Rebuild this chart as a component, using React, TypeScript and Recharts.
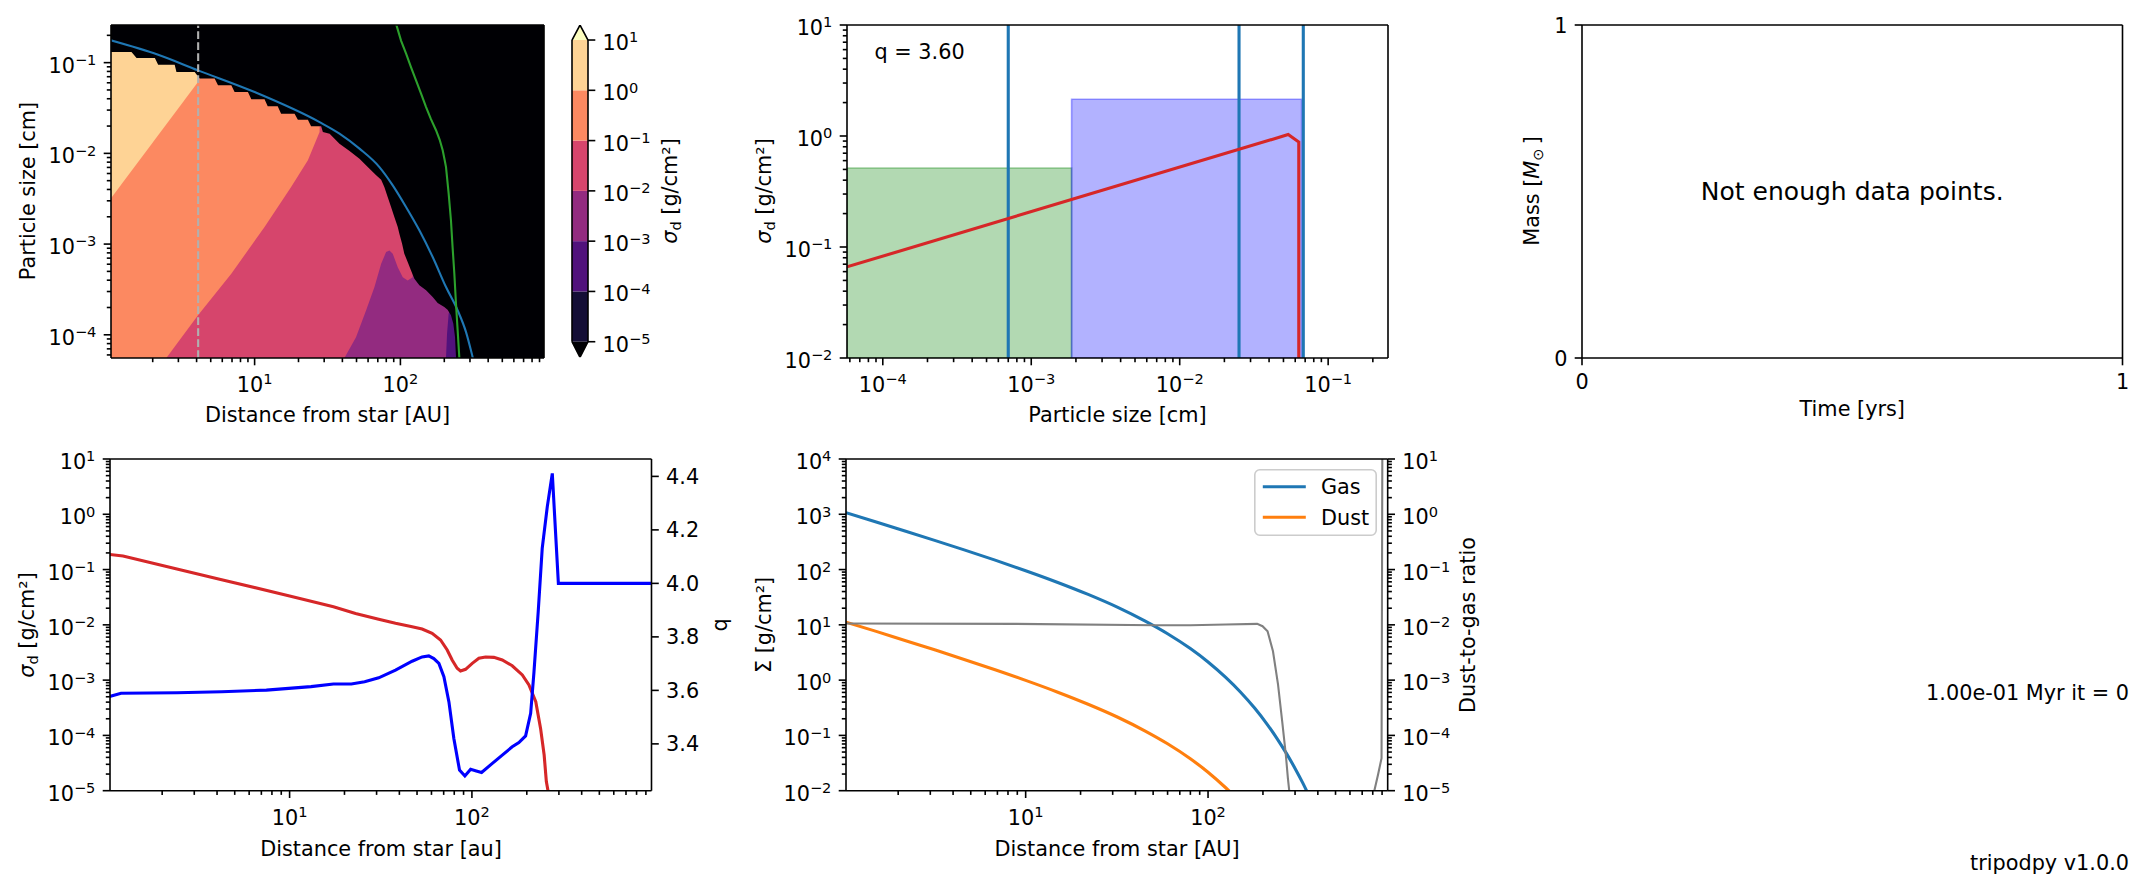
import React from "react";
import {
  ComposedChart,
  Area,
  Line,
  XAxis,
  YAxis,
  ReferenceLine,
  ReferenceArea,
  CartesianGrid,
  Legend,
} from "recharts";

const FONT = "'DejaVu Sans', sans-serif";
const FS = 20.8;
const SUP = 14.6;
const LW = 1.6;
const TICK_MAJOR = 7.3;
const TICK_MINOR = 4.2;
const TICK_PAD = 7.3;
const AXIS_LINE = { stroke: "#000", strokeWidth: LW };

// ---------- axis ranges ----------
const R_RANGE: [number, number] = [1.035, 966];
const A_MIN = 5.55e-5;
const A_MAX = 0.26;
const A_RANGE: [number, number] = [A_MIN, A_MAX];
const SIZE_RANGE: [number, number] = [5.74e-5, 0.253];
const SD_RANGE: [number, number] = [1e-2, 1e1];
const SIG_RANGE: [number, number] = [1e-5, 1e1];
const Q_RANGE: [number, number] = [3.225, 4.465];
const SURF_RANGE: [number, number] = [1e-2, 1e4];
const RATIO_RANGE: [number, number] = [1e-5, 1e1];
const CB_RANGE: [number, number] = [4.9e-6, 19.9];
const UNIT_RANGE: [number, number] = [0, 1];

// ---------- major tick values ----------
const R_MAJOR = [10, 100];
const A_MAJOR = [1e-4, 1e-3, 1e-2, 1e-1];
const SIZE_MAJOR = [1e-4, 1e-3, 1e-2, 1e-1];
const SD_MAJOR = [1e-2, 1e-1, 1e0, 1e1];
const SIG_MAJOR = [1e-5, 1e-4, 1e-3, 1e-2, 1e-1, 1e0, 1e1];
const Q_MAJOR = [3.4, 3.6, 3.8, 4.0, 4.2, 4.4];
const SURF_MAJOR = [1e-2, 1e-1, 1e0, 1e1, 1e2, 1e3, 1e4];
const RATIO_MAJOR = [1e-5, 1e-4, 1e-3, 1e-2, 1e-1, 1e0, 1e1];
const UNIT_MAJOR = [0, 1];

// ---------- colour levels of the size distribution map ----------
const SIGMA_LEVELS = [1e-5, 1e-4, 1e-3, 1e-2, 1e-1, 1e0, 1e1];
const LEVEL_COLORS = ["#140e36", "#51127c", "#932b80", "#d6456c", "#fc8961", "#fed395"];
const UNDER_COLOR = "#000004";
const OVER_COLOR = "#fcfdbf";

// lower edges of the regions sigma > 1e-4 ... sigma > 1e0 (r [AU], a [cm])
const EDGE_1EM4 = [
  { r: 1.03, a: A_MIN },
  { r: 243, a: A_MIN },
];
const EDGE_1EM3 = [
  { r: 1.03, a: A_MIN },
  { r: 205.5, a: A_MIN },
  { r: 208.9, a: 1.03e-4 },
  { r: 214.3, a: 1.71e-4 },
  { r: 219, a: 1.86e-4 },
  { r: 220, a: A_MAX },
];
const EDGE_1EM2 = [
  { r: 1.03, a: A_MIN },
  { r: 41.3, a: A_MIN },
  { r: 49.6, a: 9.4e-5 },
  { r: 58.2, a: 1.86e-4 },
  { r: 66.4, a: 3.36e-4 },
  { r: 73.8, a: 6.08e-4 },
  { r: 79.8, a: 8.17e-4 },
  { r: 84.1, a: 8.5e-4 },
  { r: 88.6, a: 7.83e-4 },
  { r: 95.9, a: 5.57e-4 },
  { r: 103.8, a: 4.32e-4 },
  { r: 112.2, a: 3.98e-4 },
  { r: 121.4, a: 4.32e-4 },
  { r: 123, a: A_MAX },
];
const EDGE_1EM1 = [
  { r: 1.03, a: A_MIN },
  { r: 2.48, a: A_MIN },
  { r: 4.09, a: 1.64e-4 },
  { r: 6.92, a: 4.72e-4 },
  { r: 11.7, a: 1.54e-3 },
  { r: 17.8, a: 4.25e-3 },
  { r: 23.2, a: 8.38e-3 },
  { r: 27.9, a: 0.0172 },
  { r: 28.5, a: A_MAX },
];
const EDGE_1E0 = [
  { r: 1.03, a: 3.16e-3 },
  { r: 4.09, a: 0.061 },
  { r: 4.2, a: A_MAX },
];
const LEVEL_EDGES = [EDGE_1EM4, EDGE_1EM3, EDGE_1EM2, EDGE_1EM1, EDGE_1E0];

// largest grain present (black above it, and everywhere beyond the dust edge)
const A_TOP = [
  { r: 1.03, a: 0.131 }, { r: 1.43, a: 0.131 }, { r: 1.55, a: 0.1124 }, { r: 2.07, a: 0.1124 },
  { r: 2.18, a: 0.095 }, { r: 2.83, a: 0.095 }, { r: 2.91, a: 0.0787 }, { r: 3.88, a: 0.0787 },
  { r: 4.2, a: 0.0667 }, { r: 5.32, a: 0.0667 }, { r: 5.61, a: 0.0562 }, { r: 6.92, a: 0.0562 },
  { r: 7.29, a: 0.0474 }, { r: 9.0, a: 0.0474 }, { r: 9.49, a: 0.0394 }, { r: 11.7, a: 0.0394 },
  { r: 12.3, a: 0.033 }, { r: 14.4, a: 0.033 }, { r: 15.2, a: 0.0274 }, { r: 18.8, a: 0.0274 },
  { r: 19.8, a: 0.0235 }, { r: 23.2, a: 0.0235 }, { r: 24.4, a: 0.0199 }, { r: 28.6, a: 0.0199 },
  { r: 29.4, a: 0.0172 }, { r: 32.7, a: 0.0165 }, { r: 38.2, a: 0.0128 }, { r: 44.8, a: 0.0106 },
  { r: 52.4, a: 0.00875 }, { r: 61.4, a: 0.00678 }, { r: 68.2, a: 0.00572 }, { r: 73.8, a: 0.00513 },
  { r: 77.6, a: 0.00425 }, { r: 81.8, a: 0.0033 }, { r: 86.3, a: 0.00256 }, { r: 90.9, a: 0.00199 },
  { r: 95.9, a: 0.00154 }, { r: 98.4, a: 0.0013 }, { r: 102.7, a: 0.00101 }, { r: 106.4, a: 7.83e-4 },
  { r: 112.2, a: 6.34e-4 }, { r: 118.3, a: 5.13e-4 }, { r: 124.7, a: 4.16e-4 }, { r: 134.9, a: 3.51e-4 },
  { r: 150, a: 3.09e-4 }, { r: 166.5, a: 2.61e-4 }, { r: 180.2, a: 2.24e-4 }, { r: 200, a: 2.02e-4 },
  { r: 210.7, a: 1.89e-4 }, { r: 222.2, a: 1.64e-4 }, { r: 230.7, a: 1.32e-4 }, { r: 237, a: 9.4e-5 },
  { r: 240.6, a: 5.7e-5 }, { r: 243, a: 4e-5 }, { r: 980, a: 4e-5 },
];

const A_FRAG = [
  { r: 1.03, a: 0.176 }, { r: 2.18, a: 0.122 }, { r: 4.09, a: 0.0822 }, { r: 10, a: 0.0474 },
  { r: 27.9, a: 0.0221 }, { r: 38.2, a: 0.0165 }, { r: 52.4, a: 0.01127 }, { r: 71.8, a: 0.00706 },
  { r: 88.6, a: 0.00444 }, { r: 109.4, a: 0.00256 }, { r: 134.9, a: 0.00142 }, { r: 166.5, a: 7.2e-4 },
  { r: 205.5, a: 3.36e-4 }, { r: 247, a: 1.86e-4 }, { r: 282, a: 1.07e-4 }, { r: 313, a: 5.66e-5 },
  { r: 330, a: 4e-5 },
];
const A_DRIFT = [
  { r: 93, a: 0.27 }, { r: 94.5, a: 0.251 }, { r: 101, a: 0.175 }, { r: 109.4, a: 0.1256 },
  { r: 118, a: 0.09 }, { r: 128, a: 0.0638 }, { r: 139, a: 0.045 }, { r: 150, a: 0.0324 },
  { r: 162, a: 0.0238 }, { r: 175.5, a: 0.018 }, { r: 186, a: 0.0141 }, { r: 195, a: 0.0108 },
  { r: 201, a: 0.0085 }, { r: 205.5, a: 0.00706 }, { r: 214.3, a: 0.0036 }, { r: 222.2, a: 0.00183 },
  { r: 228, a: 9.27e-4 }, { r: 234.4, a: 4.72e-4 }, { r: 240.6, a: 2.2e-4 }, { r: 247, a: 1.12e-4 },
  { r: 253.5, a: 5.66e-5 }, { r: 255, a: 4e-5 },
];
const R_SNAPSHOT = 4.1;

// ---------- size distribution at the snapshot radius ----------
const BINS = [
  { lo: 5.74e-5, hi: 1.87e-3, sigma: 0.515 },
  { lo: 1.87e-3, hi: 0.0662, sigma: 2.14 },
];
const BIN_COLORS = ["#008000", "#0000ff"];
const A_MARKERS = [7.0e-4, 0.0251, 0.068];
const SIZE_DIST = [
  { a: 5.74e-5, s: 0.0662 },
  { a: 0.0538, s: 1.03 },
  { a: 0.0634, s: 0.883 },
  { a: 0.0634, s: 1e-3 },
];
const Q_VALUE = "3.60";

// ---------- radial profiles ----------
const SIGMA_D = [
  { r: 1.02, s: 0.188 }, { r: 1.22, s: 0.176 }, { r: 2.41, s: 0.1026 }, { r: 4.24, s: 0.0656 },
  { r: 10, s: 0.0332 }, { r: 17.4, s: 0.0213 }, { r: 23, s: 0.0161 }, { r: 30.8, s: 0.0126 },
  { r: 38.1, s: 0.01064 }, { r: 47, s: 0.00927 }, { r: 53.3, s: 0.00841 }, { r: 60.5, s: 0.00703 },
  { r: 67.3, s: 0.00532 }, { r: 73.2, s: 0.00351 }, { r: 77.9, s: 0.00231 }, { r: 83, s: 0.00164 },
  { r: 86.6, s: 0.00146 }, { r: 92.3, s: 0.00157 }, { r: 100.4, s: 0.00201 }, { r: 109.2, s: 0.00248 },
  { r: 118.8, s: 0.00262 }, { r: 132, s: 0.00258 }, { r: 146.7, s: 0.00231 }, { r: 166.4, s: 0.00182 },
  { r: 189, s: 0.00124 }, { r: 205.5, s: 8.17e-4 }, { r: 224, s: 4.07e-4 }, { r: 238, s: 1.34e-4 },
  { r: 249, s: 4.42e-5 }, { r: 256, s: 1.46e-5 }, { r: 262, s: 9.6e-6 }, { r: 265, s: 5e-6 },
];
const Q_PROFILE = [
  { r: 1.02, q: 3.576 }, { r: 1.19, q: 3.589 }, { r: 2.41, q: 3.591 }, { r: 4.24, q: 3.595 },
  { r: 7.46, q: 3.601 }, { r: 13.1, q: 3.614 }, { r: 17.4, q: 3.624 }, { r: 21.8, q: 3.624 },
  { r: 25.8, q: 3.632 }, { r: 30.8, q: 3.647 }, { r: 38.1, q: 3.676 }, { r: 47, q: 3.709 },
  { r: 53.3, q: 3.725 }, { r: 58, q: 3.729 }, { r: 61.8, q: 3.719 }, { r: 65.9, q: 3.701 },
  { r: 70.2, q: 3.651 }, { r: 74.8, q: 3.557 }, { r: 79.6, q: 3.42 }, { r: 85.5, q: 3.302 },
  { r: 91.5, q: 3.28 }, { r: 98.4, q: 3.305 }, { r: 105.7, q: 3.299 }, { r: 113, q: 3.293 },
  { r: 129.4, q: 3.327 }, { r: 146.7, q: 3.358 }, { r: 166.4, q: 3.389 }, { r: 181, q: 3.405 },
  { r: 197, q: 3.43 }, { r: 210, q: 3.514 }, { r: 219, q: 3.669 }, { r: 231, q: 3.894 },
  { r: 243, q: 4.131 }, { r: 259, q: 4.286 }, { r: 276, q: 4.411 }, { r: 298, q: 4.0 },
  { r: 966, q: 4.0 },
];
const SIGMA_GAS = [
  { r: 1.035, s: 1070 }, { r: 1.5, s: 733 }, { r: 2.2, s: 494 }, { r: 3.2, s: 334 },
  { r: 4.6, s: 227 }, { r: 6.8, s: 148 }, { r: 10, s: 95.4 }, { r: 15, s: 58.5 },
  { r: 22, s: 35.5 }, { r: 32, s: 20.7 }, { r: 45, s: 11.8 }, { r: 60, s: 6.91 },
  { r: 80, s: 3.72 }, { r: 100, s: 2.13 }, { r: 125, s: 1.12 }, { r: 150, s: 0.617 },
  { r: 180, s: 0.312 }, { r: 210, s: 0.162 }, { r: 240, s: 0.086 }, { r: 270, s: 0.0463 },
  { r: 300, s: 0.0253 }, { r: 330, s: 0.014 }, { r: 360, s: 0.00776 },
];
const SIGMA_DUST = [
  { r: 1.035, s: 11.2 }, { r: 1.5, s: 7.7 }, { r: 2.2, s: 5.15 }, { r: 3.2, s: 3.5 },
  { r: 4.6, s: 2.37 }, { r: 6.8, s: 1.54 }, { r: 10, s: 0.99 }, { r: 15, s: 0.605 },
  { r: 22, s: 0.366 }, { r: 32, s: 0.213 }, { r: 45, s: 0.121 }, { r: 60, s: 0.0705 },
  { r: 80, s: 0.0378 }, { r: 100, s: 0.0216 }, { r: 125, s: 0.0113 }, { r: 140, s: 0.0079 },
];
const DUST_TO_GAS = [
  { r: 1.035, d: 0.01057 }, { r: 8.75, d: 0.01042 }, { r: 51.4, d: 0.00986 }, { r: 80.1, d: 0.00986 },
  { r: 125, d: 0.01014 }, { r: 186, d: 0.01042 }, { r: 199, d: 0.00946 }, { r: 212, d: 0.00768 },
  { r: 227, d: 0.00333 }, { r: 242, d: 8.28e-4 }, { r: 255, d: 1.79e-4 }, { r: 267, d: 4.46e-5 },
  { r: 274, d: 1.69e-5 }, { r: 279, d: 9.7e-6 }, { r: 285, d: 1e-7 }, { r: 810, d: 1e-7 },
  { r: 818, d: 1.03e-5 }, { r: 855, d: 1.94e-5 }, { r: 894, d: 3.88e-5 }, { r: 906, d: 1e3 },
];
const LEGEND_ORDER = ["Gas", "Dust"];

// ---------- texts ----------
const TIME_TEXT = "1.00e-01 Myr it = 0";
const VERSION_TEXT = "tripodpy v1.0.0";
const EMPTY_TEXT = "Not enough data points.";

// ---------- layout (plot-area boxes in page pixels) ----------
type Box = { l: number; r: number; t: number; b: number };
const BOX_MAP: Box = { l: 111, r: 544, t: 24.5, b: 357.5 };
const BOX_CBAR: Box = { l: 571.7, r: 587.7, t: 25, b: 357.3 };
const BOX_DIST: Box = { l: 847, r: 1388, t: 24.5, b: 357.5 };
const BOX_MASS: Box = { l: 1582, r: 2122.5, t: 24.5, b: 357.5 };
const BOX_Q: Box = { l: 110.3, r: 651.8, t: 459, b: 790.7 };
const BOX_SURF: Box = { l: 846.3, r: 1388, t: 459, b: 790.7 };
const PAD = { l: 78, r: 78, t: 14, b: 50 };
// every axis takes 1px (recharts skips drawing zero-sized axes)
const AX = 1;

function logTicks(lo: number, hi: number) {
  const out: number[] = [];
  for (let e = Math.floor(Math.log10(lo)); e <= Math.ceil(Math.log10(hi)); e++) {
    for (let k = 1; k < 10; k++) {
      const v = Number((k * Math.pow(10, e)).toPrecision(6));
      if (v >= lo && v <= hi) out.push(v);
    }
  }
  return out;
}

function isMajor(v: number, majors: number[]) {
  return majors.some((m) => Math.abs(v - m) <= Math.abs(m) * 1e-6 + 1e-12);
}

function powLabel(v: number) {
  const e = Math.round(Math.log10(v));
  return (
    <>
      <tspan>10</tspan>
      <tspan dy={-7.6} fontSize={SUP}>
        {e < 0 ? `\u2212${-e}` : `${e}`}
      </tspan>
    </>
  );
}

type Side = "bottom" | "left" | "right";
type Kind = "pow" | "plain" | "fixed1";

function tickRenderer(side: Side, majors: number[], kind: Kind) {
  return (props: any) => {
    const x = Number(props.x);
    const y = Number(props.y);
    const v = Number(props.payload?.value);
    const major = isMajor(v, majors);
    const len = major ? TICK_MAJOR : TICK_MINOR;
    let content: React.ReactNode = null;
    if (major) content = kind === "pow" ? powLabel(v) : kind === "fixed1" ? v.toFixed(1) : String(v);
    if (side === "bottom") {
      return (
        <g>
          <line x1={x} y1={y} x2={x} y2={y + len} stroke="#000" strokeWidth={LW} />
          {content !== null && (
            <text x={x} y={y + (kind === "pow" ? 34 : 30.5)} textAnchor="middle" fontFamily={FONT} fontSize={FS} fill="#000">
              {content}
            </text>
          )}
        </g>
      );
    }
    const dir = side === "left" ? -1 : 1;
    return (
      <g>
        <line x1={x} y1={y} x2={x + dir * len} y2={y} stroke="#000" strokeWidth={LW} />
        {content !== null && (
          <text
            x={x + dir * (TICK_MAJOR + TICK_PAD)}
            y={y + (kind === "pow" ? 10 : 7.6)}
            textAnchor={side === "left" ? "end" : "start"}
            fontFamily={FONT}
            fontSize={FS}
            fill="#000"
          >
            {content}
          </text>
        )}
      </g>
    );
  };
}

const TICK_BASE = { interval: 0 as const, tickSize: 0, tickMargin: 0, tickLine: false, axisLine: AXIS_LINE };

const topFrame = () => (
  <XAxis key="ft" xAxisId="top" orientation="top" type="number" domain={UNIT_RANGE} allowDataOverflow height={AX} tick={false} tickLine={false} axisLine={AXIS_LINE} />
);
const rightFrame = () => (
  <YAxis key="fr" yAxisId="frame" orientation="right" type="number" domain={UNIT_RANGE} allowDataOverflow width={AX} tick={false} tickLine={false} axisLine={AXIS_LINE} />
);

function Panel({
  box,
  children,
  sides = { l: AX, r: AX, t: AX, b: AX },
}: {
  box: Box;
  children: React.ReactNode;
  sides?: { l: number; r: number; t: number; b: number };
}) {
  const w = box.r - box.l + PAD.l + PAD.r;
  const h = box.b - box.t + PAD.t + PAD.b;
  return (
    <div style={{ position: "absolute", left: box.l - PAD.l, top: box.t - PAD.t }}>
      <ComposedChart
        width={w}
        height={h}
        margin={{ top: PAD.t - sides.t, right: PAD.r - sides.r, bottom: PAD.b - sides.b, left: PAD.l - sides.l }}
      >
        {children}
      </ComposedChart>
    </div>
  );
}

function Title({
  x,
  y,
  rotate = false,
  anchor = "middle",
  size = FS,
  children,
}: {
  x: number;
  y: number;
  rotate?: boolean;
  anchor?: "start" | "middle" | "end";
  size?: number;
  children: React.ReactNode;
}) {
  if (rotate) {
    return (
      <text transform={`translate(${x} ${y}) rotate(-90)`} textAnchor="middle" dominantBaseline="central" fontFamily={FONT} fontSize={size} fill="#000">
        {children}
      </text>
    );
  }
  return (
    <text x={x} y={y} textAnchor={anchor} fontFamily={FONT} fontSize={size} fill="#000">
      {children}
    </text>
  );
}

const SigmaD = () => (
  <>
    <tspan fontStyle="italic">σ</tspan>
    <tspan fontSize={SUP} dy={4.5}>d</tspan>
    <tspan dy={-4.5}> [g/cm²]</tspan>
  </>
);

function GasDustLegend(props: any) {
  const items = (props.payload || [])
    .filter((p: any) => LEGEND_ORDER.includes(p.value))
    .sort((a: any, b: any) => LEGEND_ORDER.indexOf(a.value) - LEGEND_ORDER.indexOf(b.value));
  return (
    <svg width={123} height={67} style={{ display: "block" }}>
      <rect x={0.8} y={0.8} width={121.4} height={65.4} rx={5} fill="#fff" fillOpacity={0.8} stroke="#cccccc" strokeWidth={1.6} />
      {items.map((it: any, i: number) => (
        <g key={it.value}>
          <line x1={8.8} x2={51.8} y1={17.7 + i * 30.6} y2={17.7 + i * 30.6} stroke={it.color} strokeWidth={3.1} />
          <text x={67} y={17.7 + i * 30.6 + 7.6} fontFamily={FONT} fontSize={FS} fill="#000">
            {it.value}
          </text>
        </g>
      ))}
    </svg>
  );
}

export default function App() {
  const rTicks = logTicks(R_RANGE[0], R_RANGE[1]);
  return (
    <div style={{ position: "absolute", left: 0, top: 0, width: 2145, height: 888, background: "#fff", overflow: "hidden" }}>
      {/* size distribution map */}
      <Panel box={BOX_MAP}>
        <CartesianGrid horizontal={false} vertical={false} fill={UNDER_COLOR} fillOpacity={1} />
        {LEVEL_EDGES.map((edge, i) => (
          <Area
            key={`lvl${i}`}
            data={edge}
            dataKey="a"
            type="linear"
            baseValue="dataMax"
            stroke="none"
            fill={LEVEL_COLORS[i + 1]}
            fillOpacity={1}
            dot={false}
            activeDot={false}
            isAnimationActive={false}
          />
        ))}
        <Area data={A_TOP} dataKey="a" type="linear" baseValue="dataMax" stroke="none" fill={UNDER_COLOR} fillOpacity={1} dot={false} activeDot={false} isAnimationActive={false} />
        <Line data={A_FRAG} dataKey="a" type="monotone" stroke="#1f77b4" strokeWidth={2.1} dot={false} activeDot={false} isAnimationActive={false} />
        <Line data={A_DRIFT} dataKey="a" type="linear" stroke="#2ca02c" strokeWidth={2.1} dot={false} activeDot={false} isAnimationActive={false} />
        <ReferenceLine x={R_SNAPSHOT} stroke="#b0b0b0" strokeWidth={2.1} strokeDasharray="7.7 3.3" />
        <XAxis dataKey="r" type="number" scale="log" domain={R_RANGE} allowDataOverflow ticks={rTicks} height={AX} {...TICK_BASE} tick={tickRenderer("bottom", R_MAJOR, "pow")} />
        <YAxis type="number" scale="log" domain={A_RANGE} allowDataOverflow ticks={logTicks(A_RANGE[0], A_RANGE[1])} width={AX} {...TICK_BASE} tick={tickRenderer("left", A_MAJOR, "pow")} />
        {topFrame()}
        {rightFrame()}
      </Panel>

      {/* colour bar */}
      <Panel box={BOX_CBAR} sides={{ l: 0, r: AX, t: 0, b: 0 }}>
        {LEVEL_COLORS.map((c, i) => (
          <ReferenceArea key={`cb${i}`} x1={0} x2={1} y1={SIGMA_LEVELS[i]} y2={SIGMA_LEVELS[i + 1]} fill={c} fillOpacity={1} stroke="none" ifOverflow="visible" />
        ))}
        <Area
          data={[{ x: 0, y: SIGMA_LEVELS[6] }, { x: 0.5, y: CB_RANGE[1] }, { x: 1, y: SIGMA_LEVELS[6] }]}
          dataKey="y"
          baseValue={SIGMA_LEVELS[6]}
          type="linear"
          stroke="#000"
          strokeWidth={LW}
          fill={OVER_COLOR}
          fillOpacity={1}
          dot={false}
          activeDot={false}
          isAnimationActive={false}
        />
        <Area
          data={[{ x: 0, y: SIGMA_LEVELS[0] }, { x: 0.5, y: CB_RANGE[0] }, { x: 1, y: SIGMA_LEVELS[0] }]}
          dataKey="y"
          baseValue={SIGMA_LEVELS[0]}
          type="linear"
          stroke="#000"
          strokeWidth={LW}
          fill={UNDER_COLOR}
          fillOpacity={1}
          dot={false}
          activeDot={false}
          isAnimationActive={false}
        />
        <ReferenceLine segment={[{ x: 0, y: SIGMA_LEVELS[0] }, { x: 0, y: SIGMA_LEVELS[6] }]} stroke="#000" strokeWidth={LW} ifOverflow="visible" />
        <ReferenceLine segment={[{ x: 1, y: SIGMA_LEVELS[0] }, { x: 1, y: SIGMA_LEVELS[6] }]} stroke="#000" strokeWidth={LW} ifOverflow="visible" />
        <XAxis dataKey="x" type="number" domain={UNIT_RANGE} hide />
        <YAxis orientation="right" type="number" scale="log" domain={CB_RANGE} allowDataOverflow ticks={SIGMA_LEVELS} width={AX} {...TICK_BASE} axisLine={false} tick={tickRenderer("right", SIGMA_LEVELS, "pow")} />
      </Panel>

      {/* size distribution at snapshot */}
      <Panel box={BOX_DIST}>
        {BINS.map((b, i) => (
          <ReferenceArea
            key={`bin${i}`}
            x1={b.lo}
            x2={b.hi}
            y1={SD_RANGE[0]}
            y2={b.sigma}
            fill={BIN_COLORS[i]}
            fillOpacity={0.3}
            stroke={BIN_COLORS[i]}
            strokeOpacity={0.35}
            strokeWidth={1.6}
            ifOverflow="hidden"
          />
        ))}
        {A_MARKERS.map((a, i) => (
          <ReferenceLine key={`am${i}`} x={a} stroke="#1f77b4" strokeWidth={3.1} />
        ))}
        <Line data={SIZE_DIST} dataKey="s" type="linear" stroke="#d62728" strokeWidth={3.1} dot={false} activeDot={false} isAnimationActive={false} />
        <XAxis dataKey="a" type="number" scale="log" domain={SIZE_RANGE} allowDataOverflow ticks={logTicks(SIZE_RANGE[0], SIZE_RANGE[1])} height={AX} {...TICK_BASE} tick={tickRenderer("bottom", SIZE_MAJOR, "pow")} />
        <YAxis type="number" scale="log" domain={SD_RANGE} allowDataOverflow ticks={logTicks(SD_RANGE[0], SD_RANGE[1])} width={AX} {...TICK_BASE} tick={tickRenderer("left", SD_MAJOR, "pow")} />
        {topFrame()}
        {rightFrame()}
      </Panel>

      {/* mass history (empty) */}
      <Panel box={BOX_MASS}>
        <XAxis dataKey="t" type="number" domain={UNIT_RANGE} allowDataOverflow ticks={UNIT_MAJOR} height={AX} {...TICK_BASE} tick={tickRenderer("bottom", UNIT_MAJOR, "plain")} />
        <YAxis type="number" domain={UNIT_RANGE} allowDataOverflow ticks={UNIT_MAJOR} width={AX} {...TICK_BASE} tick={tickRenderer("left", UNIT_MAJOR, "plain")} />
        {topFrame()}
        {rightFrame()}
      </Panel>

      {/* sigma_d and q vs radius */}
      <Panel box={BOX_Q}>
        <Line yAxisId="sig" data={SIGMA_D} dataKey="s" type="linear" stroke="#d62728" strokeWidth={3.1} dot={false} activeDot={false} isAnimationActive={false} />
        <Line yAxisId="q" data={Q_PROFILE} dataKey="q" type="linear" stroke="#0000ff" strokeWidth={3.1} dot={false} activeDot={false} isAnimationActive={false} />
        <XAxis dataKey="r" type="number" scale="log" domain={R_RANGE} allowDataOverflow ticks={rTicks} height={AX} {...TICK_BASE} tick={tickRenderer("bottom", R_MAJOR, "pow")} />
        <YAxis yAxisId="sig" type="number" scale="log" domain={SIG_RANGE} allowDataOverflow ticks={logTicks(SIG_RANGE[0], SIG_RANGE[1])} width={AX} {...TICK_BASE} tick={tickRenderer("left", SIG_MAJOR, "pow")} />
        <YAxis yAxisId="q" orientation="right" type="number" domain={Q_RANGE} allowDataOverflow ticks={Q_MAJOR} width={AX} {...TICK_BASE} tick={tickRenderer("right", Q_MAJOR, "fixed1")} />
        {topFrame()}
      </Panel>

      {/* surface densities */}
      <Panel box={BOX_SURF}>
        <Line yAxisId="sig" name="Gas" data={SIGMA_GAS} dataKey="s" type="monotone" stroke="#1f77b4" strokeWidth={3.1} dot={false} activeDot={false} isAnimationActive={false} />
        <Line yAxisId="sig" name="Dust" data={SIGMA_DUST} dataKey="s" type="monotone" stroke="#ff7f0e" strokeWidth={3.1} dot={false} activeDot={false} isAnimationActive={false} />
        <Line yAxisId="ratio" name="ratio" legendType="none" data={DUST_TO_GAS} dataKey="d" type="linear" stroke="#808080" strokeWidth={2.1} dot={false} activeDot={false} isAnimationActive={false} />
        <XAxis dataKey="r" type="number" scale="log" domain={R_RANGE} allowDataOverflow ticks={rTicks} height={AX} {...TICK_BASE} tick={tickRenderer("bottom", R_MAJOR, "pow")} />
        <YAxis yAxisId="sig" type="number" scale="log" domain={SURF_RANGE} allowDataOverflow ticks={logTicks(SURF_RANGE[0], SURF_RANGE[1])} width={AX} {...TICK_BASE} tick={tickRenderer("left", SURF_MAJOR, "pow")} />
        <YAxis yAxisId="ratio" orientation="right" type="number" scale="log" domain={RATIO_RANGE} allowDataOverflow ticks={logTicks(RATIO_RANGE[0], RATIO_RANGE[1])} width={AX} {...TICK_BASE} tick={tickRenderer("right", RATIO_MAJOR, "pow")} />
        {topFrame()}
        <Legend
          layout="vertical"
          align="center"
          verticalAlign="middle"
          content={<GasDustLegend />}
          wrapperStyle={{ position: "absolute", left: 407.6 + PAD.l, top: 10 + PAD.t, width: 123, height: 67 }}
        />
      </Panel>

      {/* titles and free text */}
      <svg width={2145} height={888} style={{ position: "absolute", left: 0, top: 0, pointerEvents: "none" }}>
        <Title x={327.5} y={422}>Distance from star [AU]</Title>
        <Title x={27.7} y={191} rotate>Particle size [cm]</Title>
        <Title x={670} y={191} rotate><SigmaD /></Title>
        <Title x={764} y={191} rotate><SigmaD /></Title>
        <Title x={1117.5} y={422}>Particle size [cm]</Title>
        <Title x={874.5} y={59} anchor="start">q = {Q_VALUE}</Title>
        <Title x={1532} y={191} rotate>
          <tspan>Mass [</tspan>
          <tspan fontStyle="italic">M</tspan>
          <tspan fontSize={SUP} dy={4.5}>⊙</tspan>
          <tspan dy={-4.5}>{"\u2009]"}</tspan>
        </Title>
        <Title x={1852.25} y={416}>Time [yrs]</Title>
        <Title x={1852.25} y={191} size={25}>
          <tspan dy={9}>{EMPTY_TEXT}</tspan>
        </Title>
        <Title x={27.3} y={625} rotate><SigmaD /></Title>
        <Title x={720} y={625} rotate>q</Title>
        <Title x={381} y={856}>Distance from star [au]</Title>
        <Title x={764} y={625} rotate>Σ [g/cm²]</Title>
        <Title x={1468} y={625} rotate>Dust-to-gas ratio</Title>
        <Title x={1117} y={856}>Distance from star [AU]</Title>
        <Title x={2129} y={700} anchor="end">{TIME_TEXT}</Title>
        <Title x={2129} y={870} anchor="end">{VERSION_TEXT}</Title>
      </svg>
    </div>
  );
}
